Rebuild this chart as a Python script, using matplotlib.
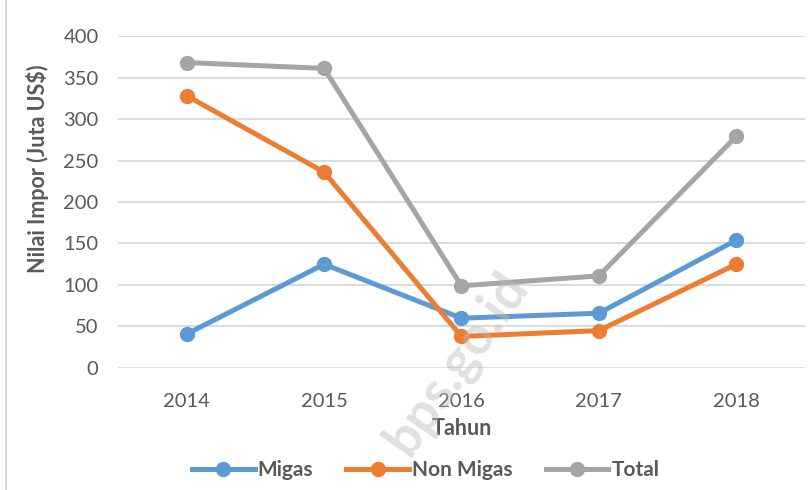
import matplotlib.pyplot as plt
from matplotlib.lines import Line2D

# data
tahun = ['2014', '2015', '2016', '2017', '2018']
migas = [41, 125, 60, 66, 154]
non_migas = [328, 236, 38, 45, 125]
total = [368, 361, 99, 111, 279]

plt.rcParams['font.family'] = ['Lato', 'DejaVu Sans']
txt = '#595959'

fig = plt.figure(figsize=(8.11, 4.9), dpi=100)
ax = fig.add_axes([0.1455, 0.249, 0.847, 0.6775])

x = range(len(tahun))
series = [(migas, '#5B9BD5', 'Migas'),
          (non_migas, '#ED7D31', 'Non Migas'),
          (total, '#A5A5A5', 'Total')]
for vals, col, lab in series:
    ax.plot(x, vals, color=col, lw=3.6, marker='o', ms=10, label=lab,
            solid_capstyle='round', zorder=3)

ax.set_xlim(-0.5, len(tahun) - 0.5)
ax.set_ylim(0, 400)
ax.set_yticks(range(0, 401, 50))
ax.set_xticks(list(x))
ax.set_xticklabels(tahun)
ax.grid(axis='y', color='#D9D9D9', lw=1.3, zorder=0)
ax.tick_params(axis='y', length=0, labelsize=14.5, colors=txt, pad=14)
ax.tick_params(axis='x', length=0, labelsize=14.5, colors=txt, pad=18)
for s in ax.spines.values():
    s.set_visible(False)

ax.set_xlabel('Tahun', fontsize=15.5, fontweight='bold', color=txt, labelpad=6)
ax.set_ylabel('Nilai Impor (Juta US$)', fontsize=15.5, fontweight='bold', color=txt)
ax.yaxis.set_label_coords(-0.1, 0.6)

handles = [Line2D([0], [0], color=c, lw=3.6, marker='o', ms=10) for _, c, _ in series]
fig.legend(handles, [l for _, _, l in series], loc='center', bbox_to_anchor=(0.525, 0.04),
           ncol=3, frameon=False, handlelength=3.0, columnspacing=1.6, handletextpad=0.15,
           prop={'family': 'Lato', 'weight': 'bold', 'size': 15}, labelcolor=txt)

# watermark
fig.text(0.563, 0.26, 'bps.go.id', rotation=55, fontsize=38, color='#BBBBBB',
         alpha=0.45, ha='center', va='center', fontweight='bold', zorder=0)

# left border
fig.add_artist(Line2D([0.007, 0.007], [0, 1], color='#D9D9D9', lw=1.5))

fig.savefig('out.png', dpi=100)
